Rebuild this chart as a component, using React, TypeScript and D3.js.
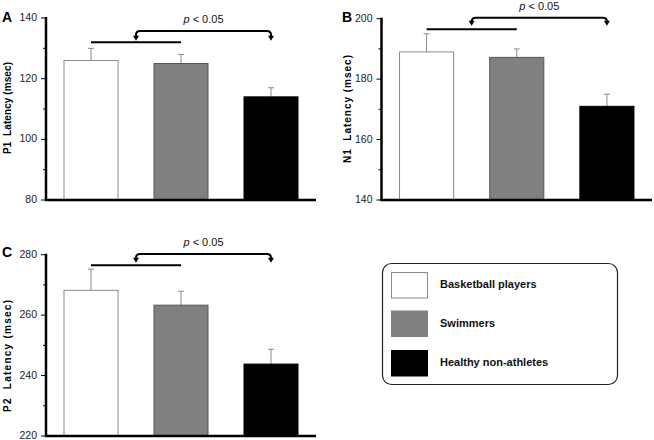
import React from "react";
import * as d3 from "d3";

const categories = ["Basketball players", "Swimmers", "Healthy non-athletes"];
const fills = ["#ffffff", "#808080", "#000000"];
const strokes = ["#8a8a8a", "#555555", "#000000"];

const p1Means = [126, 125, 114];
const p1Errors = [4, 3, 3];
const n1Means = [189, 187.2, 171];
const n1Errors = [6, 2.8, 4];
const p2Means = [268.2, 263.3, 243.8];
const p2Errors = [7, 4.6, 4.9];

const p1Ticks = [80, 100, 120, 140];
const n1Ticks = [140, 160, 180, 200];
const p2Ticks = [220, 240, 260, 280];

const FONT = "'Liberation Sans', Arial, Helvetica, sans-serif";

type PanelProps = {
  letter: string;
  yLabel: string;
  labelLen: number;
  labelCenterY: number;
  labelX: number;
  means: number[];
  errors: number[];
  ticks: number[];
  x0: number;
  x1: number;
  yTop: number;
  yBot: number;
  brH: number;
  brTop: number;
  brTip: number;
  letterX: number;
  letterY: number;
};

function Panel(p: PanelProps) {
  const y = d3
    .scaleLinear()
    .domain([p.ticks[0], p.ticks[p.ticks.length - 1]])
    .range([p.yBot, p.yTop]);
  const x = d3
    .scaleBand<string>()
    .domain(categories)
    .range([p.x0, p.x1])
    .paddingInner(0.4)
    .paddingOuter(0.2);
  const bw = x.bandwidth();
  const cx = (c: string) => (x(c) as number) + bw / 2;
  const minor = p.ticks.slice(1).map((t, i) => (t + p.ticks[i]) / 2);

  const hx1 = cx(categories[0]);
  const hx2 = cx(categories[1]);
  const ax1 = (hx1 + hx2) / 2;
  const ax2 = cx(categories[2]);
  const hY = p.yTop + p.brH;
  const topY = p.yTop + p.brTop;
  const tipY = p.yTop + p.brTip;
  const r = 4;
  const arrowPath = `M${ax1},${tipY - 4} L${ax1},${topY + r} Q${ax1},${topY} ${ax1 + r},${topY} L${ax2 - r},${topY} Q${ax2},${topY} ${ax2},${topY + r} L${ax2},${tipY - 4}`;
  const head = (hx: number) => `M${hx - 3},${tipY - 5} L${hx + 3},${tipY - 5} L${hx},${tipY} Z`;

  return (
    <g>
      {categories.map((c, i) => {
        const top = y(p.means[i]);
        const et = y(p.means[i] + p.errors[i]);
        const xc = cx(c);
        return (
          <g key={c}>
            <line x1={xc} x2={xc} y1={top} y2={et} stroke="#8a8a8a" strokeWidth={1} />
            <line x1={xc - 3} x2={xc + 3} y1={et} y2={et} stroke="#8a8a8a" strokeWidth={1} />
            <rect
              x={x(c)}
              y={top}
              width={bw}
              height={p.yBot - top}
              fill={fills[i]}
              stroke={strokes[i]}
              strokeWidth={1}
            />
          </g>
        );
      })}
      <line x1={p.x0} x2={p.x0} y1={p.yTop - 1} y2={p.yBot + 1} stroke="#000" strokeWidth={2.5} />
      <line x1={p.x0 - 1} x2={p.x1} y1={p.yBot} y2={p.yBot} stroke="#000" strokeWidth={2.5} />
      {p.ticks.map((t) => (
        <g key={t}>
          <line x1={p.x0 - 5} x2={p.x0} y1={y(t)} y2={y(t)} stroke="#000" strokeWidth={1} />
          <text
            x={p.x0 - 9}
            y={y(t) - 0.5}
            dy="0.33em"
            textAnchor="end"
            fontFamily={FONT}
            fontSize={10.5}
            fill="#222"
          >
            {t}
          </text>
        </g>
      ))}
      {minor.map((t) => (
        <line key={t} x1={p.x0 - 3} x2={p.x0} y1={y(t)} y2={y(t)} stroke="#000" strokeWidth={1} />
      ))}
      <text x={p.letterX} y={p.letterY} fontFamily={FONT} fontWeight="bold" fontSize={14}>
        {p.letter}
      </text>
      <text
        transform={`translate(${p.labelX},${p.labelCenterY}) rotate(-90)`}
        textAnchor="middle"
        fontFamily={FONT}
        fontWeight="bold"
        fontSize={10}
        textLength={p.labelLen}
        lengthAdjust="spacing"
        style={{ whiteSpace: "pre" }}
      >
        {p.yLabel}
      </text>
      <line x1={hx1} x2={hx2} y1={hY} y2={hY} stroke="#000" strokeWidth={2} />
      <path d={arrowPath} fill="none" stroke="#000" strokeWidth={2} />
      <path d={head(ax1)} fill="#000" />
      <path d={head(ax2)} fill="#000" />
      <text
        x={(ax1 + ax2) / 2}
        y={topY - 8}
        textAnchor="middle"
        fontFamily={FONT}
        fontSize={11}
        fill="#111"
      >
        <tspan fontStyle="italic">p</tspan>
        {" < 0.05"}
      </text>
    </g>
  );
}

export default function App() {
  const legendY = [272.5, 311, 350.5];
  return (
    <svg
      width={654}
      height={440}
      style={{ position: "absolute", left: 0, top: 0, background: "#fff" }}
    >
      <Panel
        letter="A"
        yLabel="P1  Latency (msec)"
        labelLen={92}
        labelCenterY={108}
        labelX={11}
        means={p1Means}
        errors={p1Errors}
        ticks={p1Ticks}
        x0={46}
        x1={316}
        yTop={18}
        yBot={200}
        brH={24.3}
        brTop={13}
        brTip={22.7}
        letterX={2}
        letterY={22}
      />
      <Panel
        letter="B"
        yLabel="N1  Latency (msec)"
        labelLen={108}
        labelCenterY={109}
        labelX={350.5}
        means={n1Means}
        errors={n1Errors}
        ticks={n1Ticks}
        x0={381.5}
        x1={652}
        yTop={18.7}
        yBot={200}
        brH={10.6}
        brTop={-1}
        brTip={7}
        letterX={342}
        letterY={22}
      />
      <Panel
        letter="C"
        yLabel="P2  Latency (msec)"
        labelLen={112}
        labelCenterY={356}
        labelX={11}
        means={p2Means}
        errors={p2Errors}
        ticks={p2Ticks}
        x0={46}
        x1={316}
        yTop={254.7}
        yBot={436}
        brH={10.6}
        brTop={-0.7}
        brTip={8}
        letterX={2}
        letterY={257}
      />
      <rect x={382.5} y={263.5} width={235} height={121} rx={9} ry={9} fill="#fff" stroke="#222" strokeWidth={1.2} />
      {categories.map((c, i) => (
        <g key={c}>
          <rect
            x={391.5}
            y={legendY[i]}
            width={36}
            height={25.5}
            fill={fills[i]}
            stroke={i === 0 ? "#8a8a8a" : fills[i]}
            strokeWidth={1}
          />
          <text
            x={440}
            y={legendY[i] + 15.5}
            fontFamily={FONT}
            fontWeight="bold"
            fontSize={11}
            fill="#111"
          >
            {c}
          </text>
        </g>
      ))}
    </svg>
  );
}
